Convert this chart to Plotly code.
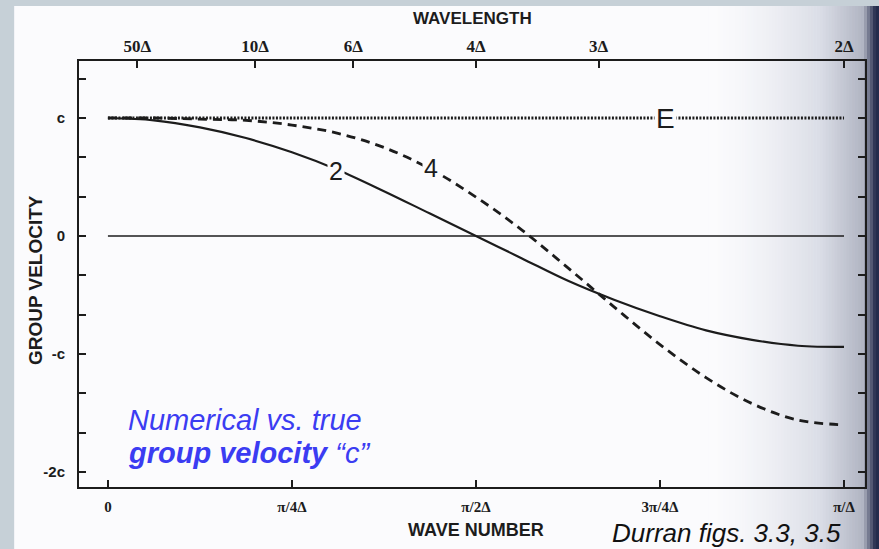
import plotly.graph_objects as go

# ---------------- data (wave number in units of pi/Delta) ----------------
k_frac = [0, 1/16, 2/16, 3/16, 4/16, 5/16, 6/16, 7/16, 8/16,
          9/16, 10/16, 11/16, 12/16, 13/16, 14/16, 15/16, 1]
vg_2nd = [1.00, 0.98, 0.92, 0.83, 0.71, 0.56, 0.38, 0.19, 0.00,
          -0.19, -0.38, -0.54, -0.68, -0.80, -0.88, -0.93, -0.94]
vg_4th = [1.00, 1.00, 0.99, 0.98, 0.94, 0.87, 0.75, 0.57, 0.33,
          0.05, -0.27, -0.60, -0.92, -1.20, -1.42, -1.56, -1.60]
e_x = [0, 1]
e_y = [1.0, 1.0]
zero_x = [0, 1]
zero_y = [0.0, 0.0]

bottom_tickvals = [0, 0.25, 0.5, 0.75, 1]
bottom_ticktext = ["0", "π/4Δ", "π/2Δ", "3π/4Δ", "π/Δ"]
wavelengths = [50, 10, 6, 4, 3, 2]
top_ticktext = ["50Δ", "10Δ", "6Δ", "4Δ", "3Δ", "2Δ"]
y_tickvals = [-2, -5/3, -4/3, -1, -2/3, -1/3, 0, 1/3, 2/3, 1, 4/3]
y_ticktext = ["-2c", "", "", "-c", "", "", "0", "", "", "c", ""]

# ---------------- layout geometry ----------------
W, H = 879, 549
ML, MR, MT, MB = 79, 12, 61, 62
PW, PH = W - ML - MR, H - MT - MB
XR = [-0.0393, 1.0285]
YR = [-2.127, 1.483]

def px(x):
    return (x - ML) / PW

def py(y):
    return (H - MB - y) / PH

INK = "#1c1c1c"
PAPER = "#fbfbfd"
BORDER = "#c6d0d7"
BLUE = "#3b3cf2"

fig = go.Figure()
fig.add_trace(go.Scatter(x=zero_x, y=zero_y, mode="lines",
                         line=dict(color=INK, width=1.6), hoverinfo="skip"))
fig.add_trace(go.Scatter(x=e_x, y=e_y, mode="lines", xaxis="x2",
                         line=dict(color=INK, width=2.8, dash="2px,1.5px"),
                         hoverinfo="skip"))
fig.add_trace(go.Scatter(x=k_frac, y=vg_4th, mode="lines", line_shape="spline",
                         line=dict(color=INK, width=2.8, dash="9px,6px"),
                         hoverinfo="skip"))
fig.add_trace(go.Scatter(x=k_frac, y=vg_2nd, mode="lines", line_shape="spline",
                         line=dict(color=INK, width=2.2), hoverinfo="skip"))

# ---------------- background: scanned page ----------------
shapes = [dict(type="rect", xref="paper", yref="paper", layer="below",
               x0=px(14), x1=px(W + 2), y0=py(H + 2), y1=py(6),
               fillcolor=PAPER, line_width=0)]

def lerp(a, b, t):
    return tuple(int(round(a[i] + (b[i] - a[i]) * t)) for i in range(3))

c0 = (251, 251, 253)
c1 = (218, 221, 230)
c2 = (176, 180, 194)
c3 = (36, 44, 76)
step = 3
for x in range(710, W, step):
    if x < 820:
        t = (x - 710) / 110
        col = lerp(c0, c1, t ** 1.5)
    elif x < 864:
        col = lerp(c1, c2, (x - 820) / 44)
    else:
        col = lerp(c2, c3, min(1, (x - 864) / 12))
    shapes.append(dict(type="rect", xref="paper", yref="paper", layer="below",
                       x0=px(x), x1=px(x + step + 0.5), y0=py(H + 2), y1=py(6),
                       fillcolor="rgb(%d,%d,%d)" % col, line_width=0))

# ---------------- annotations ----------------
ann = []
lab_font = dict(family="Liberation Sans", size=25, color=INK)
ann.append(dict(x=0.310, y=0.55, xref="x", yref="y", text="2", showarrow=False,
                font=lab_font, bgcolor=PAPER, borderpad=1))
ann.append(dict(x=0.439, y=0.58, xref="x", yref="y", text="4", showarrow=False,
                font=lab_font, bgcolor=PAPER, borderpad=1))
ann.append(dict(x=0.757, y=1.0, xref="x", yref="y", text="E", showarrow=False,
                font=dict(family="Liberation Sans", size=28, color=INK),
                bgcolor=PAPER, borderpad=1))
ann.append(dict(x=px(474), y=py(19), xref="paper", yref="paper",
                xanchor="center", yanchor="middle",
                text="<b>WAVELENGTH</b>", showarrow=False,
                font=dict(family="Liberation Sans", size=17, color=INK)))
ann.append(dict(x=px(477), y=py(530), xref="paper", yref="paper",
                xanchor="center", yanchor="middle",
                text="<b>WAVE NUMBER</b>", showarrow=False,
                font=dict(family="Liberation Sans", size=18, color=INK)))
ann.append(dict(x=px(35), y=py(280), xref="paper", yref="paper",
                xanchor="center", yanchor="middle",
                text="<b>GROUP VELOCITY</b>", showarrow=False, textangle=-90,
                font=dict(family="Liberation Sans", size=19, color=INK)))
ann.append(dict(x=px(126), y=py(420), xref="paper", yref="paper",
                xanchor="left", yanchor="middle", align="left",
                text="<i>Numerical vs. true</i>", showarrow=False,
                font=dict(family="Liberation Sans", size=29, color=BLUE)))
ann.append(dict(x=px(126), y=py(453), xref="paper", yref="paper",
                xanchor="left", yanchor="middle", align="left",
                text="<b><i>group velocity</i></b><i> “c”</i>", showarrow=False,
                font=dict(family="Liberation Sans", size=29, color=BLUE)))
ann.append(dict(x=px(611), y=py(533), xref="paper", yref="paper",
                xanchor="left", yanchor="middle",
                text="<i>Durran figs. 3.3, 3.5</i>", showarrow=False,
                font=dict(family="Liberation Sans", size=26, color="#111111")))

axis_common = dict(showgrid=False, zeroline=False, showline=True,
                   linecolor=INK, linewidth=2, ticks="inside", ticklen=7,
                   tickwidth=1.6, tickcolor=INK)

fig.update_layout(
    width=W, height=H,
    margin=dict(l=ML, r=MR, t=MT, b=MB, pad=0),
    paper_bgcolor=BORDER,
    plot_bgcolor="rgba(0,0,0,0)",
    showlegend=False,
    shapes=shapes,
    annotations=ann,
    xaxis=dict(range=XR, tickvals=bottom_tickvals,
               ticktext=["<b>%s</b>" % t for t in bottom_ticktext],
               tickfont=dict(family="Liberation Serif", size=15, color=INK),
               ticklabelstandoff=5, mirror=False, **axis_common),
    xaxis2=dict(range=XR, overlaying="x", side="top",
                tickvals=[2 / L for L in wavelengths],
                ticktext=["<b>%s</b>" % t for t in top_ticktext],
                tickfont=dict(family="Liberation Serif", size=17, color=INK),
                ticklabelstandoff=0, **axis_common),
    yaxis=dict(range=YR, tickvals=y_tickvals,
               ticktext=["<b>%s</b>" % t if t else "" for t in y_ticktext],
               tickfont=dict(family="Liberation Sans", size=15, color=INK),
               ticklabelstandoff=9, mirror="ticks", **axis_common),
)

fig.write_html("out.html")
